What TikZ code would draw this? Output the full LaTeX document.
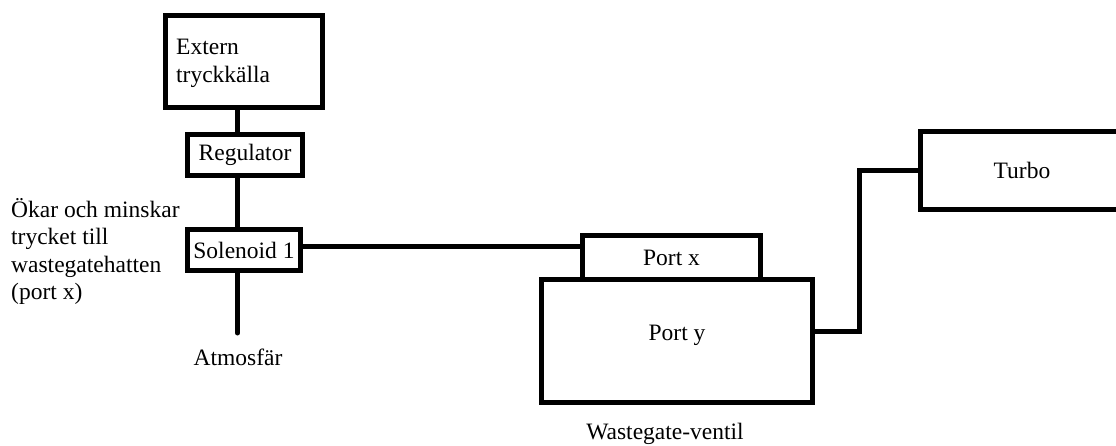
\documentclass[tikz,border=0pt]{standalone}
\usepackage{fontspec}
\setmainfont{Liberation Serif}
\begin{document}
\begin{tikzpicture}[x=1pt,y=-1pt,
  box/.style={draw,line width=5pt,inner sep=0pt,minimum width=#1},
  lbl/.style={inner sep=0pt,font=\fontsize{23.5}{27.5}\selectfont},
  wire/.style={line width=5pt}]
\useasboundingbox (0,0) rectangle (1116,446);
\begin{scope}
\clip (0,0) rectangle (1116,446);
% boxes
\node[box=157pt,minimum height=92pt] (ext) at (244,61.5) {};
\node[lbl,align=left,anchor=west] (extt) at (176,63.5) {Extern\\tryckkälla};
\node[box=115pt,minimum height=41pt,lbl] (reg) at (245,155) {Regulator};
\node[box=113pt,minimum height=41pt,lbl] (sol) at (244,250) {Solenoid 1};
\node[box=178pt,minimum height=44pt,lbl] (px) at (671.5,257.5) {Port x};
\node[box=271pt,minimum height=123pt] (py) at (677,341) {};
\node[lbl] (pyt) at (677,335) {Port y};
\node[box=203pt,minimum height=78pt,lbl] (tb) at (1022,170.5) {Turbo};
% labels
\node[lbl,align=left,anchor=west] (note) at (11,251.5) {Ökar och minskar\\trycket till\\wastegatehatten\\(port x)};
\node[lbl] (atm) at (238,357) {Atmosfär};
\node[lbl] (wg) at (665,434) {Wastegate-ventil};
% connectors
\coordinate (vx) at (237.5,0);
\coordinate (hy) at (0,247);
\coordinate (ty) at (0,331);
\coordinate (tx) at (859,0);
\coordinate (ay) at (0,333);
\draw[wire] (ext.south -| vx) -- (reg.north -| vx);
\draw[wire] (reg.south -| vx) -- (sol.north -| vx);
\draw[wire,line cap=round] (sol.south -| vx) -- (vx |- ay);
\draw[wire] (sol.east |- hy) -- (px.west |- hy);
\draw[wire] (py.east |- ty) -- (tx |- ty) -- (tx |- tb.west) -- (tb.west);
\end{scope}
\end{tikzpicture}
\end{document}
